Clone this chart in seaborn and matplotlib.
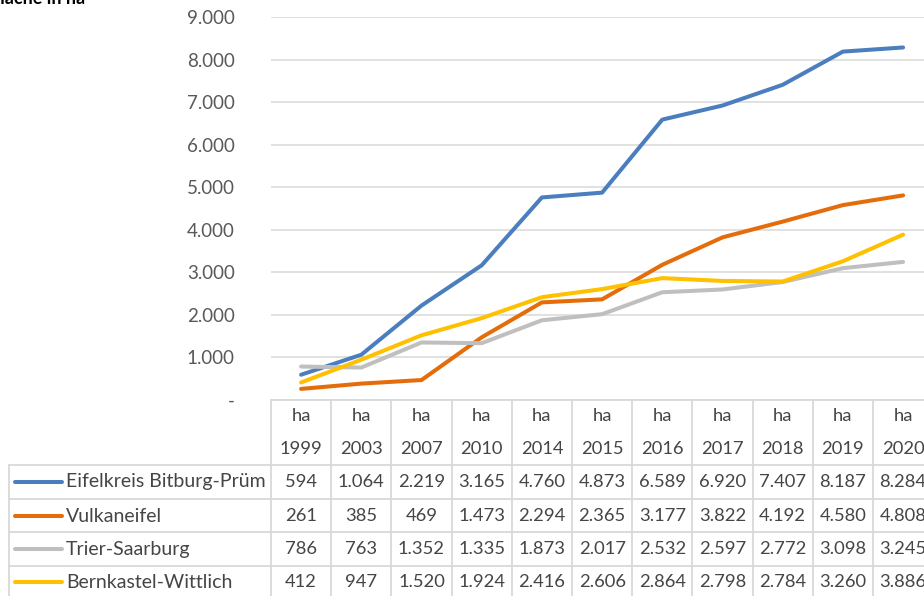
import pandas as pd
import seaborn as sns
import matplotlib.pyplot as plt

# --- data ---
years = ["1999", "2003", "2007", "2010", "2014", "2015", "2016", "2017", "2018", "2019", "2020"]
regions = ["Eifelkreis Bitburg-Prüm", "Vulkaneifel", "Trier-Saarburg", "Bernkastel-Wittlich"]
eifel = [594, 1064, 2219, 3165, 4760, 4873, 6589, 6920, 7407, 8187, 8284]
vulkan = [261, 385, 469, 1473, 2294, 2365, 3177, 3822, 4192, 4580, 4808]
trier = [786, 763, 1352, 1335, 1873, 2017, 2532, 2597, 2772, 3098, 3245]
bernkastel = [412, 947, 1520, 1924, 2416, 2606, 2864, 2798, 2784, 3260, 3886]
yticks = [0, 1000, 2000, 3000, 4000, 5000, 6000, 7000, 8000, 9000]

colors = ["#4A7EBF", "#E46C0A", "#BFBFBF", "#FFC000"]

series = [eifel, vulkan, trier, bernkastel]
df = pd.DataFrame({
    "x": list(range(len(years))) * len(regions),
    "ha": sum(series, []),
    "Region": [r for r in regions for _ in years],
})


def fmt(v):
    return "-" if v == 0 else f"{v:,}".replace(",", ".")


sns.set_style("white")
plt.rcParams["font.family"] = ["Lato", "DejaVu Sans"]

W, H = 924, 596
fig = plt.figure(figsize=(W / 100, H / 100), dpi=100)

# plot area in pixels
left, bottom_px, top_px = 271, 400, 17
colw = 60.2
ax = fig.add_axes([left / W, 1 - bottom_px / H,
                   colw * len(years) / W, (bottom_px - top_px) / H])

sns.lineplot(data=df, x="x", y="ha", hue="Region", palette=colors,
             linewidth=2.9, legend=False, ax=ax,
             solid_capstyle="round", solid_joinstyle="round")

ax.set_xlim(-0.5, len(years) - 0.5)
ax.set_ylim(0, 9000)
ax.set_yticks(yticks)
ax.set_yticklabels([fmt(v) for v in yticks], color="#595959", fontsize=13.5)
ax.tick_params(axis="y", length=0, pad=26)
ax.set_xticks([])
ax.set_xlabel("")
ax.set_ylabel("")
for s in ax.spines.values():
    s.set_visible(False)
ax.yaxis.grid(True, color="#D9D9D9", linewidth=1.1)
ax.set_axisbelow(True)

# --- data table below the plot (pixel coords on the figure) ---
def fy(py):
    return 1 - py / H

def fx(px):
    return px / W

grid_c = "#D9D9D9"
txt_c = "#454545"
fs = 13.2

# horizontal lines
fig.add_artist(plt.Line2D([fx(left), 1.05], [fy(400), fy(400)], color=grid_c, lw=1.3))
for yy in [465, 499, 532, 566]:
    fig.add_artist(plt.Line2D([fx(9), 1.05], [fy(yy), fy(yy)], color=grid_c, lw=1.3))
# vertical lines
fig.add_artist(plt.Line2D([fx(9), fx(9)], [fy(465), fy(600)], color=grid_c, lw=1.3))
for i in range(len(years) + 1):
    xx = left + colw * i
    fig.add_artist(plt.Line2D([fx(xx), fx(xx)], [fy(400), fy(600)], color=grid_c, lw=1.3))

# header
for i, yr in enumerate(years):
    cx = fx(left + colw * (i + 0.5))
    fig.text(cx, fy(416), "ha", ha="center", va="center", fontsize=fs, color=txt_c)
    fig.text(cx, fy(449), yr, ha="center", va="center", fontsize=fs, color=txt_c)

# rows
row_y = [482, 516, 549, 582]
for r, (name, vals, c) in enumerate(zip(regions, series, colors)):
    yy = fy(row_y[r])
    fig.add_artist(plt.Line2D([fx(15), fx(62)], [yy, yy], color=c, lw=2.9,
                              solid_capstyle="round"))
    fig.text(fx(66), yy, name, ha="left", va="center", fontsize=14, color=txt_c)
    for i, v in enumerate(vals):
        cx = fx(left + colw * (i + 0.5))
        fig.text(cx, yy, fmt(v), ha="center", va="center", fontsize=fs, color=txt_c)

# title, cut off at the top left like in the source image
fig.text(fx(85), fy(4), "Fläche in ha", ha="right", va="baseline",
         fontsize=13, fontweight="bold", color="black")

fig.savefig("out.png", dpi=100)
